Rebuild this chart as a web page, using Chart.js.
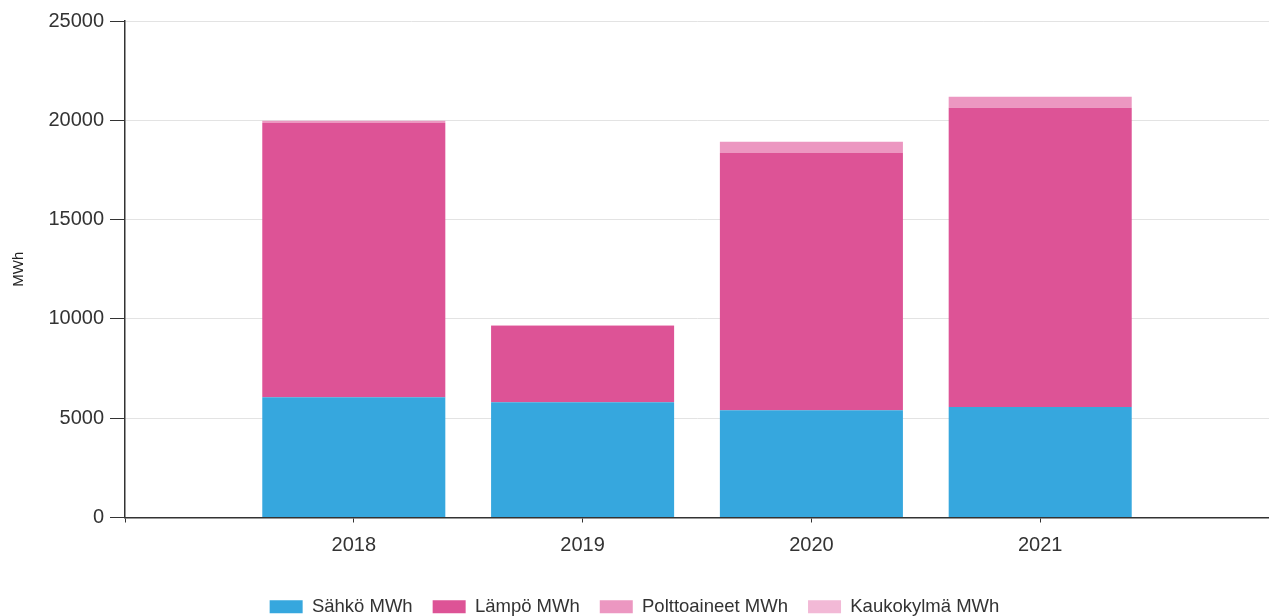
<!DOCTYPE html>
<html>
<head>
<meta charset="utf-8">
<script src="https://cdn.jsdelivr.net/npm/chart.js@4"></script>
<style>
  html, body { margin: 0; padding: 0; background: #fff; }
  #wrap { width: 1269px; height: 616px; position: relative; }
</style>
</head>
<body>
<div id="wrap"><canvas id="energyChart"></canvas></div>
<script>
// empty slots at both ends keep the bars where the original has them
const years = ["", "2018", "2019", "2020", "2021", ""];

const sahko = [null, 6050, 5800, 5400, 5560, null];
const lampo = [null, 13820, 3840, 12950, 15070, null];
const polttoaineet = [null, 110, 40, 570, 555, null];
const kaukokylma = [null, 0, 0, 0, 0, null];

const seriesNames = ["Sähkö MWh", "Lämpö MWh", "Polttoaineet MWh", "Kaukokylmä MWh"];
const seriesColors = ["#36a7de", "#dd5396", "#ec97c1", "#f2b9d6"];

const yTicks = [0, 5000, 10000, 15000, 20000, 25000];

const FONT = "Liberation Sans, Arial, sans-serif";

document.addEventListener("DOMContentLoaded", function () {

  const ctx = document.getElementById("energyChart");

  const values = [sahko, lampo, polttoaineet, kaukokylma];

  new Chart(ctx, {
    type: "bar",
    data: {
      labels: years,
      datasets: values.map(function (v, i) {
        return {
          label: seriesNames[i],
          data: v,
          backgroundColor: seriesColors[i],
          borderWidth: 0,
          barPercentage: 0.8,
          categoryPercentage: 1.0
        };
      })
    },
    options: {
      responsive: true,
      maintainAspectRatio: false,
      animation: false,
      // equal negative side padding keeps the legend centred
      layout: { padding: { top: 21, right: -27, left: -27, bottom: -10 } },
      plugins: {
        tooltip: { enabled: false },
        legend: {
          position: "bottom",
          labels: {
            boxWidth: 33,
            boxHeight: 13,
            padding: 20,
            color: "#333",
            font: { family: FONT, size: 18.5 }
          }
        }
      },
      scales: {
        x: {
          stacked: true,
          offset: false,
          grid: {
            display: true,
            offset: false,
            drawOnChartArea: false,
            tickLength: 5,
            tickColor: "#333"
          },
          border: { display: true, color: "#333", width: 1.5 },
          ticks: {
            color: "#333",
            padding: 11,
            font: { family: FONT, size: 20 },
            maxRotation: 0,
            autoSkip: false
          },
          afterFit: function (scale) {
            scale.height = 60;
            scale.paddingRight = -6;
          }
        },
        y: {
          stacked: true,
          min: 0,
          max: 25000,
          afterBuildTicks: function (scale) {
            scale.ticks = yTicks.map(function (t) { return { value: t }; });
          },
          grid: {
            color: "#e3e3e3",
            tickColor: "#333",
            tickLength: 15,
            drawTicks: true
          },
          border: { display: true, color: "#333", width: 1.5 },
          ticks: {
            color: "#333",
            padding: 6,
            font: { family: FONT, size: 20 },
            callback: function (v) { return String(v); }
          },
          title: {
            display: true,
            text: "MWh",
            color: "#222",
            padding: { top: 37, bottom: 0 },
            font: { family: FONT, size: 15 }
          },
          afterFit: function (scale) { scale.width = 152; }
        }
      }
    }
  });

});
</script>
</body>
</html>
